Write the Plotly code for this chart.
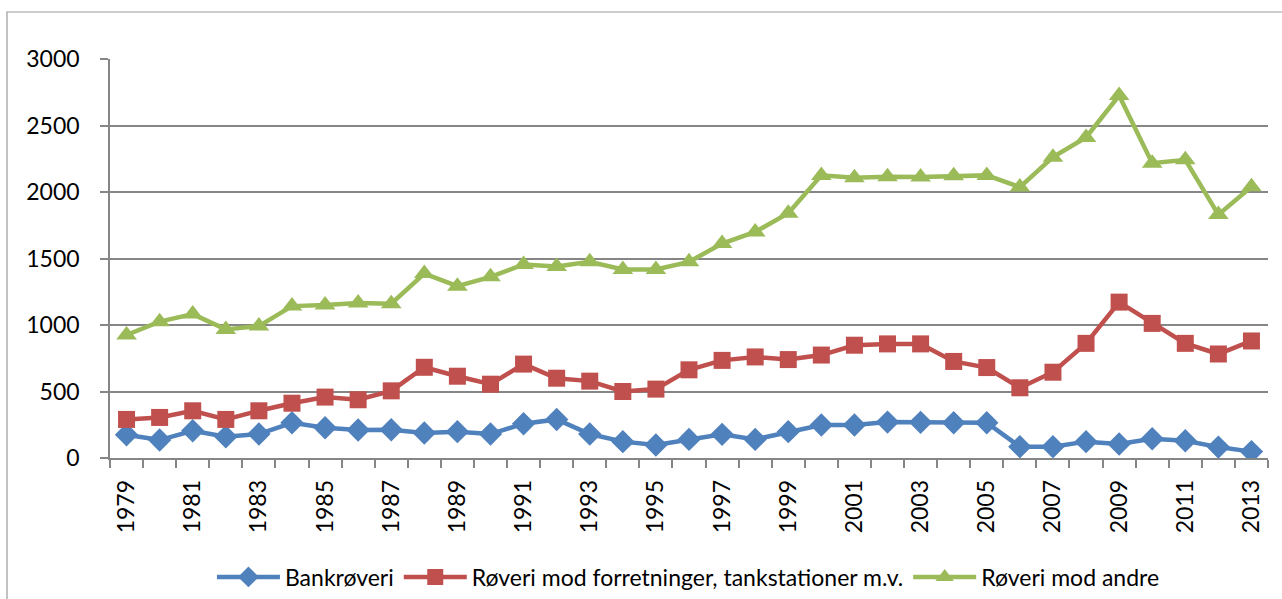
import plotly.graph_objects as go

years = list(range(1979, 2014))

bank = [175, 135, 205, 160, 180, 265, 228, 210, 212, 188, 198, 180,
        258, 290, 180, 123, 98, 140, 178, 140, 198, 248, 248, 270,
        268, 265, 265, 85, 85, 123, 105, 145, 130, 82, 48]

forretninger = [290, 305, 355, 290, 355, 412, 458, 438, 505, 682, 615, 555,
                706, 600, 578, 500, 518, 663, 734, 760, 740, 774, 848, 858,
                858, 726, 680, 528, 645, 862, 1172, 1012, 862, 782, 880]

andre = [925, 1025, 1082, 967, 992, 1142, 1150, 1165, 1160, 1387, 1292, 1362,
         1455, 1440, 1475, 1417, 1417, 1475, 1612, 1700, 1840, 2125, 2107, 2115,
         2112, 2122, 2125, 2037, 2262, 2410, 2725, 2217, 2242, 1830, 2040]

series = [
    ("Bankrøveri", bank, "#4F81BD", "diamond", 18),
    ("Røveri mod forretninger, tankstationer m.v.", forretninger, "#C0504D", "square", 17),
    ("Røveri mod andre", andre, "#9BBB59", "triangle-up", 18),
]

fig = go.Figure()
for name, vals, color, sym, size in series:
    fig.add_trace(go.Scatter(
        x=years, y=vals, name=name, mode="lines+markers",
        line=dict(color=color, width=4.5),
        marker=dict(symbol=sym, size=size, color=color),
    ))

grid = "#868686"
fig.update_layout(
    width=1282, height=599,
    margin=dict(l=110, r=14, t=59, b=141, autoexpand=False),
    paper_bgcolor="white", plot_bgcolor="white",
    font=dict(family="Lato", size=23, color="black"),
    showlegend=True,
    legend=dict(orientation="h", x=0.537, xref="container", y=(599 - 577) / 599, yref="container",
                xanchor="center", yanchor="middle",
                font=dict(size=23), itemwidth=63, tracegroupgap=0),
    shapes=[dict(type="rect", xref="paper", yref="paper",
                 x0=-103 / 1158, x1=1.2, y0=-0.5, y1=1 + 47 / 399,
                 line=dict(color="#9A9A9A", width=1.2), layer="below")],
)

fig.update_xaxes(
    range=[1978.5, 2013.5], automargin=False,
    tickmode="array", tickvals=years[::2], ticktext=[str(y) for y in years[::2]],
    tickangle=-90, ticks="", showgrid=False,
    showline=True, linecolor=grid, linewidth=1.5,
    minor=dict(tickmode="array", tickvals=[y - 0.5 for y in years] + [2013.5],
               ticks="outside", ticklen=8, tickcolor=grid, tickwidth=1.5, showgrid=False),
    ticklabelstandoff=11,
)
fig.update_yaxes(
    range=[0, 3000], tickvals=[0, 500, 1000, 1500, 2000, 2500, 3000], automargin=False,
    showgrid=True, gridcolor=grid, gridwidth=1.5,
    showline=True, linecolor=grid, linewidth=1.5,
    ticks="outside", ticklen=8, tickcolor=grid, tickwidth=1.5,
    zeroline=False, ticklabelstandoff=16,
)

# the page body has an 8px default margin; drop it so the figure sits at 0,0
fig.write_html("out.html", config={"displayModeBar": False},
               post_script="document.body.style.margin='0';")
